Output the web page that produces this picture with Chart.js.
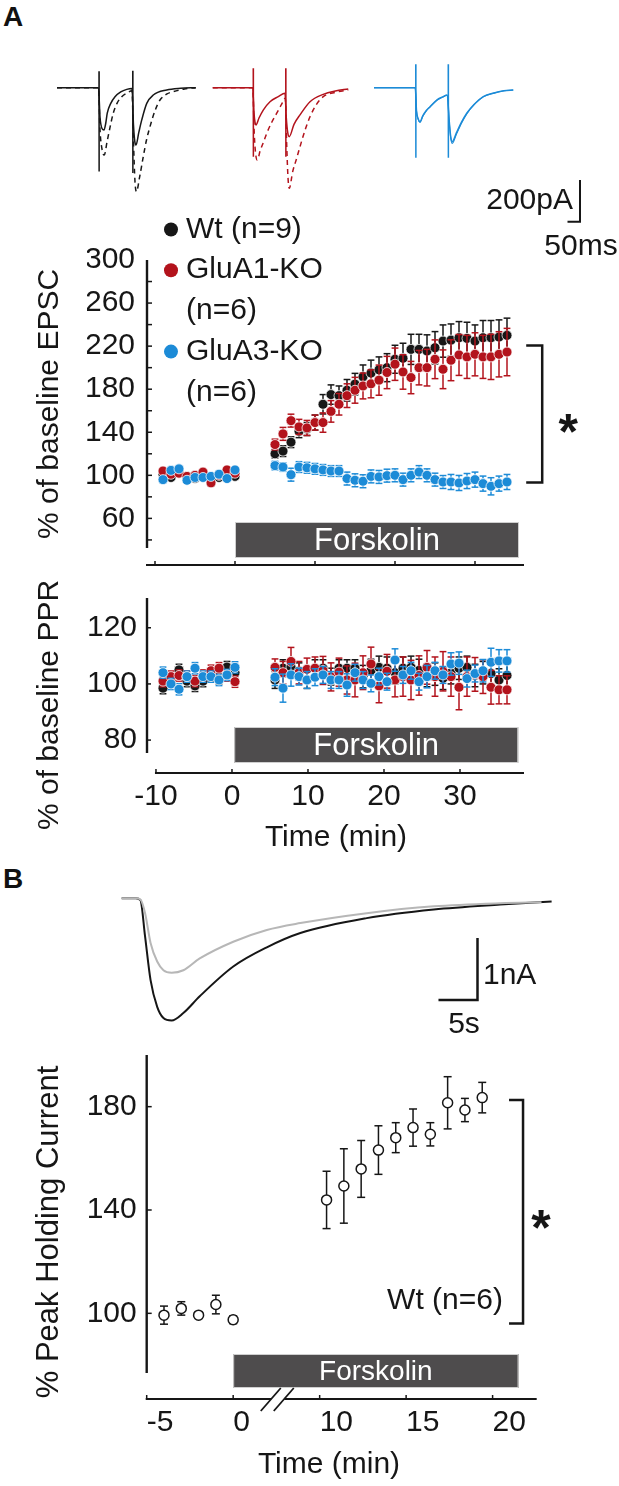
<!DOCTYPE html>
<html>
<head>
<meta charset="utf-8">
<title>Forskolin potentiation of EPSC and holding current</title>
<script src="https://cdn.jsdelivr.net/npm/chart.js@4.4.1/dist/chart.umd.min.js"></script>
<style>
  html, body { margin: 0; padding: 0; background: #fff; }
  body { position: relative; width: 619px; height: 1486px; overflow: hidden; }
  canvas { position: absolute; left: 0; }
  .panel-label { position: absolute; left: 3px; font: bold 28px "Liberation Sans", Arial, sans-serif; color: #111; line-height: 1; }
</style>
</head>
<body>
<div class="panel-label" style="top:3px">A</div>
<div class="panel-label" style="top:865px">B</div>
<canvas id="tracesA" width="619" height="270" style="top:0px"></canvas>
<canvas id="epsc" width="619" height="420" style="top:195px"></canvas>
<canvas id="ppr" width="619" height="315" style="top:555px"></canvas>
<canvas id="tracesB" width="619" height="190" style="top:860px"></canvas>
<canvas id="holding" width="619" height="476" style="top:1010px"></canvas>
<script>
'use strict';

// ---------- panel A: time course (min from forskolin onset, % of baseline) ----------
const timesA = [-9, -8, -7, -6, -5, -4, -3, -2, -1, 0,
  5, 6, 7, 8, 9, 10, 11, 12, 13, 14, 15, 16, 17, 18, 19, 20, 21, 22, 23, 24,
  25, 26, 27, 28, 29, 30, 31, 32, 33, 34];

const epscWt = [101, 98, 104, 99, 97, 100, 98, 98, 102, 99,
  120, 122.5, 130.8, 141, 143, 149, 166, 175, 174, 179, 184.7, 191.5, 195, 198, 200,
  207.8, 208.7, 217, 217, 215.5, 218.5, 224.7, 225.6, 227.8, 227.2, 224.7, 227.8, 227.8, 228.4, 230];
const epscWtErr = [3, 2, 3, 2, 2, 2, 3, 2, 2, 2,
  4, 5, 5, 6, 6, 7, 9, 9, 9, 10, 10, 11, 12, 12, 13, 13, 14, 14, 14, 15,
  15, 15, 15, 15, 15, 15, 16, 16, 16, 16];
const epscA1 = [104, 101, 102, 99, 100, 103, 93, 100, 105, 102,
  128.6, 138.5, 150.8, 145, 144, 149, 149, 159.4, 166, 174, 179, 183, 185, 188.4, 195.5,
  203.2, 196, 190.8, 200, 200, 207.8, 198.5, 206.9, 211.8, 210, 212.4, 210, 210, 212.4, 214.5];
const epscA1Err = [2, 2, 3, 2, 2, 2, 3, 2, 2, 2,
  5, 6, 6, 7, 7, 7, 9, 10, 10, 11, 12, 12, 13, 14, 15, 15, 16, 15, 16, 17,
  18, 18, 19, 19, 20, 20, 20, 21, 21, 22];
const epscA3 = [96, 104.6, 106, 95.4, 98, 98, 99, 101, 97, 105,
  109, 107.7, 100.6, 107.7, 107, 106, 105, 104, 104, 97, 95.4, 94.5, 99, 98.5, 99.7,
  100, 96, 100, 103, 100, 96, 93.8, 93.8, 92.9, 94.7, 96, 92.3, 89.8, 92.3, 93.8];
const epscA3Err = [2, 2, 3, 2, 3, 2, 2, 3, 2, 2,
  4, 4, 6, 5, 5, 5, 5, 5, 5, 6, 6, 6, 6, 6, 6, 6, 6, 6, 6, 6,
  6, 6, 7, 7, 7, 7, 7, 8, 7, 7];

const pprWt = [98.5, 101, 105, 101, 99.3, 101, 103, 102, 106, 104,
  101.4, 105.6, 106, 104.5, 101.4, 105.6, 105.6, 102.6, 105.6, 105.6, 105.6, 102.6, 104.8, 105.9, 105.6,
  104, 105.6, 105.9, 104.8, 103, 103.5, 102, 104, 105.6, 105.9, 103, 104, 103.7, 101.4, 103];
const pprWtErr = [2, 2, 2, 2, 2, 2, 2, 2, 2, 2,
  3, 3, 3, 3, 3, 3, 3, 3, 3, 3, 3, 4, 4, 4, 4, 4, 4, 4, 4, 4,
  4, 4, 4, 4, 4, 4, 4, 4, 4, 4];
const pprA1 = [101, 102.6, 103, 102.6, 101, 103, 104.7, 105.6, 103, 100.8,
  105.9, 104, 108, 104, 105.2, 105.6, 104.8, 102.5, 104.2, 101.4, 101.4, 104, 107.1, 99.3, 104.5,
  101.4, 102.6, 101.4, 103, 105.9, 102.6, 104.5, 102.6, 98.8, 102.6, 103.4, 102.6, 98.8, 97.9, 97.9];
const pprA1Err = [2, 2, 2, 2, 2, 2, 2, 2, 2, 2,
  3, 4, 5, 4, 4, 4, 5, 5, 5, 5, 6, 6, 6, 6, 6, 6, 7, 7, 7, 6,
  7, 7, 7, 8, 7, 6, 6, 6, 5, 5];
const pprA3 = [104, 100, 98.1, 102.6, 105.6, 102.6, 102.6, 101.4, 103.2, 105.9,
  102.4, 98.5, 103.2, 102.6, 101.4, 102.4, 103.2, 101.4, 101.4, 99.6, 104, 101.4, 100.2, 102.6, 100.8,
  108.5, 103.2, 104.7, 100.8, 102.6, 104.7, 103.2, 107.1, 107.4, 101.9, 103.7, 104.7, 107.7, 108.2, 108.2];
const pprA3Err = [2, 2, 2, 2, 2, 2, 2, 2, 2, 2,
  3, 5, 4, 3, 3, 3, 3, 3, 3, 4, 3, 3, 3, 3, 3, 4, 3, 3, 3, 4,
  3, 3, 4, 4, 3, 3, 4, 5, 4, 4];

const groupLabels = ['Wt (n=9)', 'GluA1-KO\n(n=6)', 'GluA3-KO\n(n=6)'];
const epscTickLabels = [60, 100, 140, 180, 220, 260, 300];
const epscTickMarks = [40, 60, 80, 100, 120, 140, 160, 180, 200, 220, 240, 260, 280];
const pprTicks = [80, 100, 120];
const timeTicksA = [-10, 0, 10, 20, 30];
const forskolinA = [0, 35.5];

// example traces, ms from trace start vs pA (solid = baseline, dashed = forskolin)
const wtSolid = [[0, 0], [166, 0], [172, -140], [180, -195], [188, -202], [195, -170], [201, -122], [215, -75],
  [232, -43], [255, -20], [279, -8], [300, -4], [306, -180], [311, -255], [316, -274], [327, -215], [339, -154],
  [359, -75], [385, -35], [439, -11], [495, -3], [555, 0]];
const wtDashed = [[0, 0], [166, 0], [172, -200], [181, -300], [189, -322], [200, -260], [212, -190], [225, -122],
  [240, -75], [259, -43], [280, -25], [300, -15], [306, -260], [312, -450], [318, -497], [330, -430], [345, -330],
  [358, -250], [372, -186], [392, -110], [412, -59], [440, -30], [465, -19], [510, -6], [555, 0]];
const wtArtifacts = [[168, 78, -400], [303, 81, -408]];
const a1Solid = [[0, 0], [160, 0], [165, -120], [169, -165], [173, -178], [185, -145], [202, -107], [229, -67],
  [262, -43], [289, -27], [294, -140], [300, -215], [306, -234], [325, -175], [349, -130], [389, -67], [442, -32],
  [490, -16], [542, -6]];
const a1Dashed = [[0, 0], [160, 0], [166, -220], [172, -320], [178, -346], [190, -300], [203, -260], [216, -218],
  [236, -165], [256, -122], [275, -80], [290, -50], [296, -280], [301, -430], [306, -481], [320, -400], [335, -340],
  [349, -282], [370, -200], [389, -139], [415, -80], [442, -43], [490, -22], [542, -11]];
const a1Artifacts = [[162, 93, -330], [292, 93, -330]];
const a3Solid = [[0, 0], [165, 0], [170, -110], [177, -150], [184, -163], [195, -135], [210, -108], [224, -91],
  [251, -59], [275, -44], [293, -35], [301, -160], [307, -235], [313, -258], [330, -215], [350, -165], [371, -122],
  [400, -80], [437, -43], [480, -25], [520, -15], [557, -11]];
const a3Second = [[0, 0], [165, 0], [170, -112], [177, -152], [184, -166], [195, -138], [210, -110], [224, -93],
  [251, -61], [275, -45], [293, -36], [301, -165], [307, -242], [313, -266], [330, -222], [350, -170], [371, -125],
  [400, -82], [437, -44], [480, -26], [520, -15], [557, -11]];
const a3Artifacts = [[167, 112, -335], [297, 112, -335]];

// ---------- panel B: holding current ----------
// trace: s vs nA
const holdBaseline = [[0, 0], [1.8, 0], [2.4, -0.02], [3.0, -0.24], [3.7, -0.72], [4.55, -1.02], [5.35, -1.16],
  [6.4, -1.2], [7.9, -1.16], [10, -0.97], [14.3, -0.7], [18.6, -0.51], [22.9, -0.4], [31.4, -0.24], [40, -0.13],
  [48.5, -0.08], [53.8, -0.065]];
const holdForskolin = [[0, 0], [1.8, 0], [2.4, -0.03], [3.0, -0.62], [3.7, -1.32], [4.55, -1.75], [5.35, -1.93],
  [6.4, -1.97], [7.9, -1.85], [10, -1.58], [14.3, -1.1], [18.6, -0.79], [22.9, -0.56], [31.4, -0.32], [40, -0.18],
  [48.5, -0.1], [55.1, -0.05]];

const holdTimes = [-4, -3, -2, -1, 0, 10.4, 11.4, 12.4, 13.4, 14.4, 15.4, 16.4, 17.4, 18.4, 19.4];
const holdPct = [99.3, 101.9, 99.3, 103.4, 97.5, 143.9, 149.3, 155.9, 163.2, 168, 171.9, 169.3, 181.5, 178.7, 183.5];
const holdErr = [3.5, 2.6, 1, 3.6, 1.5, 11.1, 14.4, 11, 9.4, 5.8, 7.2, 4.5, 10.1, 4.5, 5.9];
const holdTicksX = [-5, 0, 10, 15, 20];
const holdTicksY = [100, 140, 180];
const forskolinB = [0, 21.5];
const BREAK_GAP = 5; // 0..10 min drawn as 5 min on the broken axis

// ---------- style ----------
const INK = '#161616';
const FONT = '"Liberation Sans", Arial, Helvetica, sans-serif';
const GROUP_COLORS = ['#171717', '#b3131c', '#1c8bd7'];
const GROUP_ORDER = [3, 2, 1]; // blue on top, black underneath
const TRACE_OFFSETS = [28, 651, 1296]; // ms, where each example starts on the shared axis

Chart.defaults.font.family = FONT;
Chart.defaults.color = INK;

const plotX = t => (t > 0 ? t - BREAK_GAP : t);

function pageTop(chart) {
  return parseFloat(chart.canvas.style.top) || 0;
}

function seg(ctx, x1, y1, x2, y2) {
  ctx.beginPath();
  ctx.moveTo(x1, y1);
  ctx.lineTo(x2, y2);
  ctx.stroke();
}

function text(ctx, str, x, y, size, opts = {}) {
  ctx.save();
  ctx.font = `${opts.bold ? 'bold ' : ''}${size}px ${FONT}`;
  ctx.fillStyle = opts.color || INK;
  ctx.textAlign = opts.align || 'center';
  ctx.textBaseline = opts.baseline || 'middle';
  ctx.translate(x, y);
  if (opts.rotate) ctx.rotate(opts.rotate);
  ctx.fillText(str, 0, 0);
  ctx.restore();
}

const errorBars = {
  id: 'errorBars',
  beforeDatasetDraw(chart, args) {
    const ds = chart.data.datasets[args.index];
    if (!ds.errors) return;
    const ys = chart.scales[args.meta.yAxisID];
    const ctx = chart.ctx;
    const cap = ds.capHalf || 3;
    ctx.save();
    ctx.strokeStyle = ds.errorColor;
    ctx.lineWidth = 1.5;
    args.meta.data.forEach((pt, i) => {
      const v = ds.data[i].y, e = ds.errors[i];
      const top = ys.getPixelForValue(v + e);
      const bot = ys.getPixelForValue(v - e);
      seg(ctx, pt.x, top, pt.x, bot);
      seg(ctx, pt.x - cap, top, pt.x + cap, top);
      seg(ctx, pt.x - cap, bot, pt.x + cap, bot);
    });
    ctx.restore();
  }
};

function decorPlugin(cfg) {
  return {
    id: 'decor',
    beforeDatasetsDraw(chart) {
      const b = cfg.bar;
      if (!b) return;
      const { ctx, chartArea: a } = chart;
      const xs = chart.scales[b.axis];
      const x1 = xs.getPixelForValue(b.from), x2 = xs.getPixelForValue(b.to);
      const y1 = a.bottom - b.top;
      ctx.save();
      ctx.fillStyle = '#4e4c4d';
      ctx.fillRect(x1, y1, x2 - x1, b.height);
      ctx.strokeStyle = '#cfcfcf';
      ctx.lineWidth = 1;
      ctx.strokeRect(x1 + 0.5, y1 + 0.5, x2 - x1 - 1, b.height - 1);
      ctx.restore();
      text(ctx, 'Forskolin', (x1 + x2) / 2, y1 + b.height / 2 + 1, b.size, { color: '#ffffff' });
    },
    afterDatasetsDraw(chart) {
      const { ctx, chartArea: a } = chart;
      const top = pageTop(chart);
      ctx.save();
      ctx.strokeStyle = INK;
      if (cfg.ySpine) {
        const ys = chart.scales.y;
        ctx.lineWidth = 2.4;
        seg(ctx, a.left, a.top, a.left, a.bottom);
        ctx.lineWidth = 1.5;
        cfg.ySpine.ticks.forEach(v => {
          const y = ys.getPixelForValue(v);
          seg(ctx, a.left, y, a.left + cfg.ySpine.len, y);
        });
      }
      if (cfg.xSpine) {
        const o = cfg.xSpine;
        const xs = chart.scales[o.axis];
        const y = a.bottom + o.offset;
        ctx.lineWidth = 2.2;
        seg(ctx, xs.getPixelForValue(o.from) - 1, y, a.right, y);
        ctx.lineWidth = 1.5;
        o.ticks.forEach(v => {
          const x = xs.getPixelForValue(v);
          seg(ctx, x, y, x, y - o.len);
        });
        if (o.breakAt !== undefined) {
          const bx = xs.getPixelForValue(o.breakAt);
          ctx.fillStyle = '#ffffff';
          ctx.fillRect(bx - 6, y - 2.5, 13, 5);
          ctx.lineWidth = 1.8;
          [-6.5, 6.5].forEach(d => seg(ctx, bx + d - 10, y + 12, bx + d + 10, y - 11));
        }
      }
      if (cfg.bracket) {
        const o = cfg.bracket;
        const x = chart.scales.x.getPixelForValue(o.x);
        const y1 = chart.scales.y.getPixelForValue(o.to);
        const y2 = chart.scales.y.getPixelForValue(o.from);
        ctx.lineWidth = 2.5;
        ctx.beginPath();
        ctx.moveTo(x - o.arm, y1);
        ctx.lineTo(x, y1);
        ctx.lineTo(x, y2);
        ctx.lineTo(x - o.arm, y2);
        ctx.stroke();
        const size = 50;
        text(ctx, '*', x + o.starDx, (y1 + y2) / 2 + o.starDy + 0.56 * size, size,
          { bold: true, baseline: 'alphabetic' });
      }
      if (cfg.scaleBar) {
        const o = cfg.scaleBar;
        const xs = chart.scales.x, ys = chart.scales.y;
        const x = xs.getPixelForValue(o.x), y = ys.getPixelForValue(o.y);
        ctx.lineWidth = o.width;
        ctx.beginPath();
        ctx.moveTo(x, ys.getPixelForValue(o.y + o.dy));
        ctx.lineTo(x, y);
        ctx.lineTo(xs.getPixelForValue(o.x - o.dx), y);
        ctx.stroke();
      }
      ctx.restore();

      (cfg.texts || []).forEach(t => {
        let x = t.x, y = t.y - top;
        if (t.dataX !== undefined) {
          x = chart.scales.x.getPixelForValue(t.dataX);
          y = chart.scales.y.getPixelForValue(t.dataY);
        }
        text(ctx, t.text, x, y, t.size || 30, { align: t.align, rotate: t.rotate });
      });

      if (cfg.legend) {
        const o = cfg.legend;
        let row = 0;
        chart.data.datasets.forEach(ds => {
          const lines = ds.label.split('\n');
          const y0 = o.y + row * o.gap - top;
          ctx.save();
          ctx.fillStyle = ds.backgroundColor;
          ctx.beginPath();
          ctx.arc(o.x, y0, o.r, 0, Math.PI * 2);
          ctx.fill();
          ctx.restore();
          lines.forEach((ln, k) => text(ctx, ln, o.textX, y0 + k * o.gap, 30, { align: 'left' }));
          row += lines.length;
        });
      }
    }
  };
}

function baseOptions(padding) {
  return {
    responsive: false,
    animation: false,
    events: [],
    layout: { padding },
    plugins: { legend: { display: false }, tooltip: { enabled: false } }
  };
}

function yAxis(min, max, ticks, pad) {
  return {
    type: 'linear', min, max,
    afterFit: s => { s.width = 60; },
    afterBuildTicks: s => { s.ticks = ticks.map(v => ({ value: v })); },
    grid: { display: false, drawTicks: false },
    border: { display: false },
    ticks: { padding: pad, color: INK, autoSkip: false, font: { family: FONT, size: 30 } }
  };
}

function groupSets(values, errors) {
  return groupLabels.map((label, k) => ({
    label,
    order: GROUP_ORDER[k],
    xAxisID: 'x',
    errors: errors[k],
    errorColor: GROUP_COLORS[k],
    capHalf: 3.4,
    data: timesA.map((t, i) => ({ x: t, y: values[k][i] })),
    backgroundColor: GROUP_COLORS[k],
    borderColor: 'rgba(255,255,255,0.85)',
    borderWidth: 0.9,
    pointRadius: 5,
    pointHoverRadius: 5,
    clip: false
  }));
}

function traceSet(points, offset, color, dashed, width) {
  return {
    data: points.map(p => ({ x: offset + p[0], y: p[1] })),
    borderColor: color,
    borderWidth: width || 1.5,
    borderDash: dashed ? [5, 4] : [],
    borderJoinStyle: 'round',
    pointRadius: 0,
    cubicInterpolationMode: 'monotone',
    fill: false,
    clip: false
  };
}

function artifactSet(stims, offset, color) {
  const data = [];
  stims.forEach(s => {
    data.push({ x: offset + s[0], y: s[1] }, { x: offset + s[0] + 0.5, y: s[2] }, { x: offset + s[0] + 1, y: null });
  });
  return { data, borderColor: color, borderWidth: 1.5, pointRadius: 0, tension: 0, spanGaps: false, fill: false, clip: false };
}

// ---------- A: example traces ----------
new Chart(document.getElementById('tracesA'), {
  type: 'line',
  data: {
    datasets: [
      traceSet(wtDashed, TRACE_OFFSETS[0], GROUP_COLORS[0], true),
      traceSet(wtSolid, TRACE_OFFSETS[0], GROUP_COLORS[0], false),
      artifactSet(wtArtifacts, TRACE_OFFSETS[0], GROUP_COLORS[0]),
      traceSet(a1Dashed, TRACE_OFFSETS[1], GROUP_COLORS[1], true),
      traceSet(a1Solid, TRACE_OFFSETS[1], GROUP_COLORS[1], false),
      artifactSet(a1Artifacts, TRACE_OFFSETS[1], GROUP_COLORS[1]),
      traceSet(a3Second, TRACE_OFFSETS[2], GROUP_COLORS[2], false, 1.1),
      traceSet(a3Solid, TRACE_OFFSETS[2], GROUP_COLORS[2], false),
      artifactSet(a3Artifacts, TRACE_OFFSETS[2], GROUP_COLORS[2])
    ]
  },
  options: {
    ...baseOptions({ left: 50, right: 9, top: 50, bottom: 40 }),
    scales: {
      x: { type: 'linear', display: false, min: 0, max: 2240 },
      y: { type: 'linear', display: false, min: -680, max: 180 }
    }
  },
  plugins: [decorPlugin({
    scaleBar: { x: 2120, y: -641, dx: 50, dy: 200, width: 2 },
    texts: [
      { text: '200pA', x: 573, y: 201, align: 'right' },
      { text: '50ms', x: 581, y: 247 }
    ]
  })]
});

// ---------- A: EPSC ----------
new Chart(document.getElementById('epsc'), {
  type: 'scatter',
  data: { datasets: groupSets([epscWt, epscA1, epscA3], [epscWtErr, epscA1Err, epscA3Err]) },
  options: {
    ...baseOptions({ left: 87, right: 95, top: 65, bottom: 67 }),
    scales: {
      x: { type: 'linear', display: false, min: -11, max: 36.125 },
      y: yAxis(32.5, 300, epscTickLabels, 12)
    }
  },
  plugins: [errorBars, decorPlugin({
    ySpine: { ticks: epscTickMarks, len: 5 },
    xSpine: { axis: 'x', offset: 17, from: -11, ticks: timeTicksA, len: 4 },
    bar: { axis: 'x', from: forskolinA[0], to: forskolinA[1], top: 26, height: 36, size: 31 },
    bracket: { x: 38.4, from: 93.3, to: 220.7, arm: 16, starDx: 26, starDy: 7 },
    legend: { x: 171, textX: 186, y: 229.5, gap: 40.7, r: 7 },
    texts: [{ text: '% of baseline EPSC', x: 50, y: 404, rotate: -Math.PI / 2 }]
  })]
});

// ---------- A: PPR ----------
new Chart(document.getElementById('ppr'), {
  type: 'scatter',
  data: { datasets: groupSets([pprWt, pprA1, pprA3], [pprWtErr, pprA1Err, pprA3Err]) },
  options: {
    ...baseOptions({ left: 87, right: 95, top: 43, bottom: 12 }),
    scales: {
      x: { type: 'linear', display: false, min: -11, max: 36.125 },
      xt: {
        type: 'linear', axis: 'x', position: 'bottom', min: -11.18, max: 38.42,
        afterFit: s => { s.height = 105; },
        afterBuildTicks: s => { s.ticks = timeTicksA.map(v => ({ value: v })); },
        grid: { display: false, drawTicks: false },
        border: { display: false },
        ticks: { padding: 26, color: INK, autoSkip: false, maxRotation: 0, font: { family: FONT, size: 30 } }
      },
      y: yAxis(75.4, 130.6, pprTicks, 10)
    }
  },
  plugins: [errorBars, decorPlugin({
    ySpine: { ticks: pprTicks, len: 4 },
    xSpine: { axis: 'xt', offset: 20, from: -10, ticks: timeTicksA, len: 4 },
    bar: { axis: 'x', from: forskolinA[0] - 0.1, to: forskolinA[1] - 0.1, top: 26, height: 36, size: 31 },
    texts: [
      { text: '% of baseline PPR', x: 50, y: 705, rotate: -Math.PI / 2 },
      { text: 'Time (min)', x: 336, y: 838 }
    ]
  })]
});

// ---------- B: holding current traces ----------
new Chart(document.getElementById('tracesB'), {
  type: 'line',
  data: {
    datasets: [
      traceSet(holdBaseline, 0, '#b7b7b7', false, 2),
      traceSet(holdForskolin, 0, INK, false, 2)
    ]
  },
  options: {
    ...baseOptions({ left: 100, right: 19, top: 20, bottom: 10 }),
    scales: {
      x: { type: 'linear', display: false, min: -2.78, max: 61.3 },
      y: { type: 'linear', display: false, min: -2.285, max: 0.295 }
    }
  },
  plugins: [decorPlugin({
    scaleBar: { x: 45.6, y: -1.64, dx: 5, dy: 1, width: 2.5 },
    texts: [
      { text: '1nA', x: 483, y: 976, align: 'left' },
      { text: '5s', x: 464, y: 1025 }
    ]
  })]
});

// ---------- B: % peak holding current ----------
new Chart(document.getElementById('holding'), {
  type: 'scatter',
  data: {
    datasets: [{
      label: 'Wt (n=6)',
      data: holdTimes.map((t, i) => ({ x: plotX(t), y: holdPct[i] })),
      errors: holdErr,
      errorColor: INK,
      capHalf: 4,
      backgroundColor: '#ffffff',
      borderColor: INK,
      borderWidth: 1.5,
      pointRadius: 5,
      pointHoverRadius: 5,
      clip: false
    }]
  },
  options: {
    ...baseOptions({ left: 86.7, right: 82.3, top: 45, bottom: 13 }),
    scales: {
      x: {
        type: 'linear', position: 'bottom', min: -5, max: 17.55,
        afterFit: s => { s.height = 100; },
        afterBuildTicks: s => { s.ticks = holdTicksX.map(t => ({ value: plotX(t) })); },
        grid: { display: false, drawTicks: false },
        border: { display: false },
        ticks: {
          padding: 32, color: INK, align: 'start', autoSkip: false, maxRotation: 0,
          font: { family: FONT, size: 30 },
          callback: v => String(v > 0 ? v + BREAK_GAP : v)
        }
      },
      y: yAxis(76.9, 200, holdTicksY, 10)
    }
  },
  plugins: [errorBars, decorPlugin({
    ySpine: { ticks: holdTicksY, len: 5 },
    xSpine: { axis: 'x', offset: 26, from: -5, ticks: holdTicksX.map(plotX), len: 4, breakAt: 2.55 },
    bar: { axis: 'x', from: plotX(forskolinB[0]), to: plotX(forskolinB[1]), top: 19, height: 34, size: 28 },
    bracket: { x: plotX(21.76), from: 96.1, to: 182.6, arm: 14, starDx: 18, starDy: 5 },
    texts: [
      { text: '% Peak Holding Current', x: 49, y: 1232, size: 31, rotate: -Math.PI / 2 },
      { text: 'Time (min)', x: 329, y: 1465 },
      { text: 'Wt (n=6)', dataX: plotX(20.6), dataY: 105, align: 'right' }
    ]
  })]
});
</script>
</body>
</html>
